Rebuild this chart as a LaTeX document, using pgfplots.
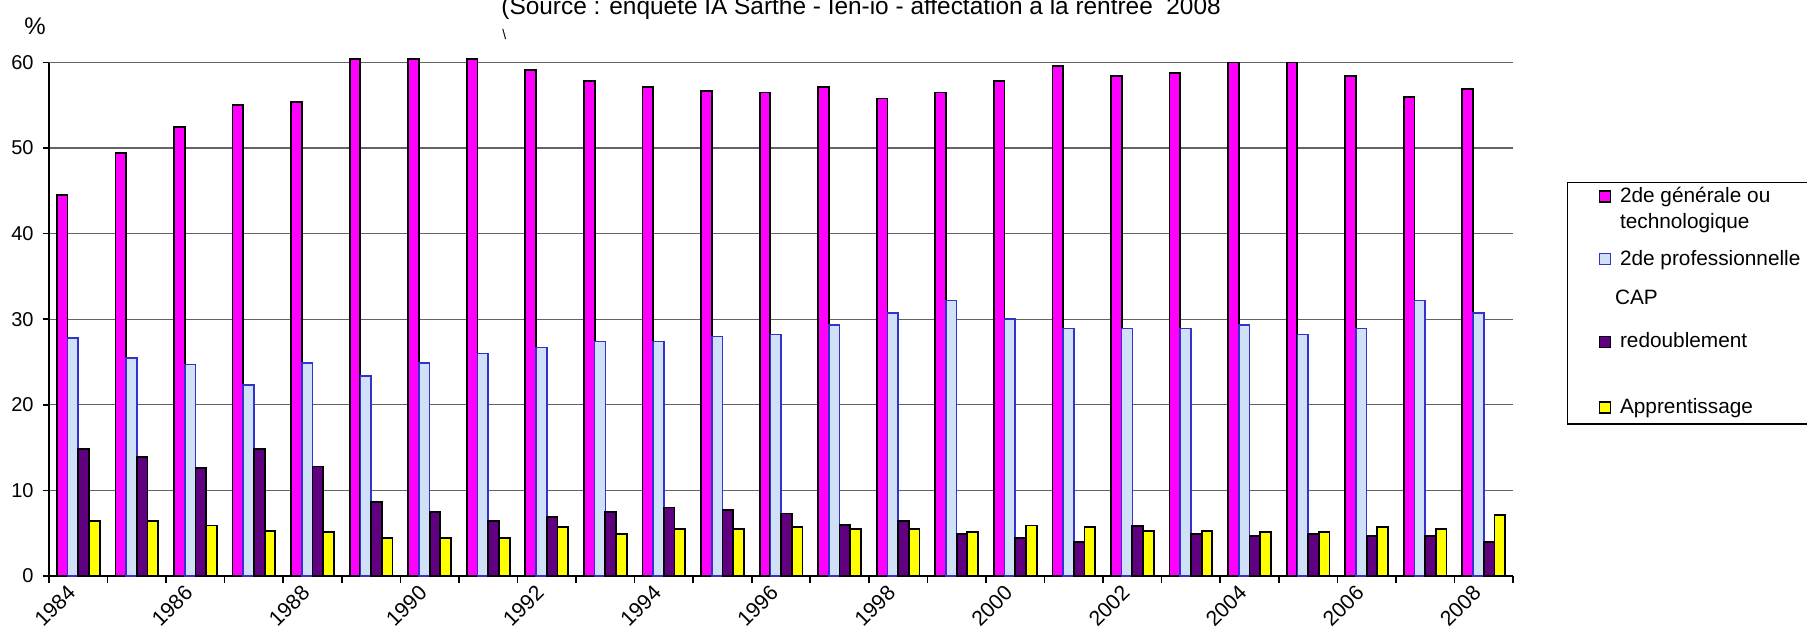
\documentclass[border=0pt]{standalone}
\usepackage{fontspec}
\setmainfont{Liberation Sans}
\usepackage{pgfplots}
\pgfplotsset{compat=1.18}
\usepackage{pgfplotstable}

\definecolor{cgen}{RGB}{255,0,255}
\definecolor{cprofill}{RGB}{208,224,246}
\definecolor{cproline}{RGB}{51,51,204}
\definecolor{cred}{RGB}{96,0,128}
\definecolor{capp}{RGB}{255,255,0}
\definecolor{cgrid}{RGB}{100,100,100}

\pgfplotstableread{
x gen pro red app
0 44.5 27.8 14.8 6.4
1 49.4 25.5 13.9 6.4
2 52.5 24.7 12.6 5.9
3 55.0 22.3 14.8 5.3
4 55.4 24.9 12.8 5.1
5 60.4 23.4 8.6 4.4
6 60.4 24.9 7.5 4.4
7 60.4 26.0 6.4 4.4
8 59.1 26.7 6.9 5.7
9 57.8 27.4 7.5 4.9
10 57.1 27.4 8.0 5.5
11 56.7 28.0 7.7 5.5
12 56.5 28.2 7.3 5.7
13 57.1 29.3 6.0 5.5
14 55.8 30.7 6.4 5.5
15 56.5 32.2 4.9 5.1
16 57.8 30.0 4.4 5.9
17 59.6 28.9 4.0 5.7
18 58.4 28.9 5.8 5.3
19 58.8 28.9 4.9 5.3
20 60.0 29.3 4.7 5.1
21 60.0 28.2 4.9 5.1
22 58.4 28.9 4.7 5.7
23 56.0 32.2 4.7 5.5
24 56.9 30.7 4.0 7.1
}\datatable

\begin{document}
\begin{tikzpicture}
\useasboundingbox (0,0) rectangle (903.5pt,320pt);
\begin{axis}[
  at={(24.5pt,32pt)}, anchor=south west,
  scale only axis, width=732pt, height=256.75pt,
  xmin=-0.5, xmax=24.5, ymin=0, ymax=60,
  clip=false,
  axis lines*=left,
  axis line style={black, line width=0.8pt},
  ybar=0pt, bar width=5.35pt,
  xtick={0,2,...,24},
  xticklabels={1984,1986,1988,1990,1992,1994,1996,1998,2000,2002,2004,2006,2008},
  minor xtick={-0.5,0.5,...,24.5},
  ytick={0,10,...,60},
  tick align=outside, major tick length=3pt, minor tick length=3.5pt,
  tick style={black, line width=0.8pt},
  major x tick style={draw=none},
  ymajorgrids, grid style={cgrid, line width=0.6pt},
  tick label style={font=\fontsize{10pt}{12pt}\selectfont},
  /pgf/number format/assume math mode=true,
  xticklabel style={font=\fontsize{10.6pt}{12pt}\selectfont, xshift=-3.2pt, yshift=-3.5pt, rotate=45, anchor=east, inner sep=0pt},
  yticklabel style={anchor=east, inner sep=0pt, xshift=-4.5pt},
  legend style={at={(1.0369,0.7673)}, anchor=north west, draw=black, line width=0.6pt,
    inner xsep=15.5pt, inner ysep=0.6pt, row sep=0pt, column sep=4.5pt,
    nodes={inner sep=0pt, text depth=, text height=},
    cells={anchor=north west},
    font=\fontsize{10.4pt}{13pt}\selectfont},
  legend image code/.code={\draw[#1, line width=0.7pt] (0pt,-3.65pt) rectangle (5.5pt,-9.15pt); \path[draw=none,fill=none] (0pt,0pt) rectangle (5.5pt,-9.15pt);},
]
\addplot[fill=cgen, draw=black, line width=0.9pt] table[x=x, y=gen] {\datatable};
\addlegendentry{\parbox[t][31pt][t]{115pt}{\strut 2de générale ou\\technologique}}
\addplot[fill=cprofill, draw=cproline, line width=0.8pt] table[x=x, y=pro] {\datatable};
\addlegendentry{\parbox[t][41pt][t]{115pt}{\strut 2de professionnelle\\[6.5pt]\hspace*{-2.5pt}CAP}}
\addplot[fill=cred, draw=black, line width=0.9pt] table[x=x, y=red] {\datatable};
\addlegendentry{\parbox[t][32.5pt][t]{115pt}{\strut redoublement}}
\addplot[fill=capp, draw=black, line width=0.9pt] table[x=x, y=app] {\datatable};
\addlegendentry{\parbox[t][13.8pt][t]{115pt}{\strut Apprentissage}}
\end{axis}
\node[anchor=base west, inner sep=0pt, font=\fontsize{12.2pt}{14pt}\selectfont] at (250.5pt,312.5pt) {(Source : enquête IA Sarthe - Ien-io - affectation à la rentrée\ \ 2008};
\node[anchor=base west, inner sep=0pt, font=\fontsize{7pt}{8pt}\selectfont] at (251pt,300pt) {\textbackslash};
\node[inner sep=0pt, font=\fontsize{12pt}{14pt}\selectfont] at (17.5pt,307pt) {\%};
\end{tikzpicture}
\end{document}
